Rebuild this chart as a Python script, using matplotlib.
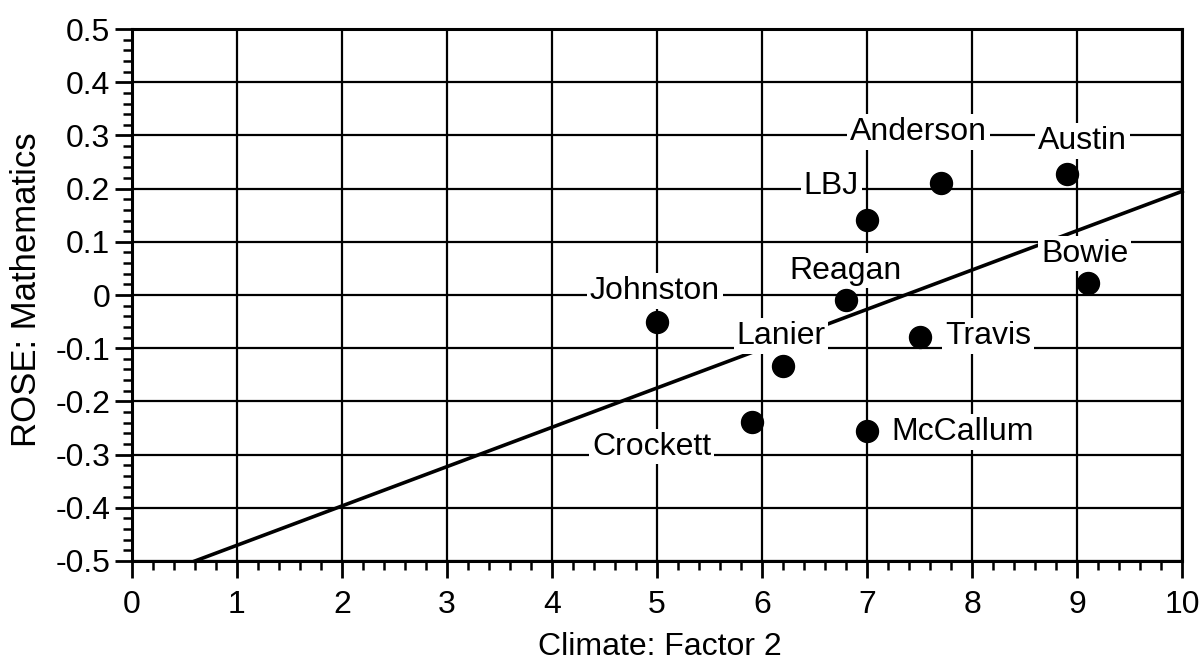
import matplotlib.pyplot as plt
import numpy as np
from matplotlib.ticker import MultipleLocator

plt.rcParams['font.family'] = ['Liberation Sans', 'DejaVu Sans']

schools = ["Johnston", "Crockett", "Lanier", "Reagan", "LBJ",
           "Anderson", "Austin", "Bowie", "Travis", "McCallum"]
climate = [5.0, 5.9, 6.2, 6.8, 7.0, 7.7, 8.9, 9.1, 7.5, 7.0]
rose_math = [-0.05, -0.238, -0.134, -0.009, 0.141, 0.21, 0.228, 0.023, -0.079, -0.255]
# where each name is written (centre x, baseline y)
label_x = [4.98, 4.95, 6.18, 6.79, 6.66, 7.49, 9.05, 9.07, 8.15, 7.91]
label_y = [-0.007, -0.300, -0.092, 0.031, 0.190, 0.292, 0.275, 0.063, -0.092, -0.272]

# fitted line end points
fit_x = [0.6, 10.0]
fit_y = [-0.5, 0.195]

fig = plt.figure(figsize=(12.03, 6.60), dpi=100)
ax = fig.add_axes([0.1097, 0.15, 0.873, 0.806])

ax.set_xlim(0, 10)
ax.set_ylim(-0.5, 0.5)
ax.xaxis.set_major_locator(MultipleLocator(1))
ax.xaxis.set_minor_locator(MultipleLocator(0.2))
ax.yaxis.set_major_locator(MultipleLocator(0.1))
ax.yaxis.set_minor_locator(MultipleLocator(0.02))
ax.grid(True, which='major', color='black', linewidth=1.6)
ax.set_axisbelow(True)

ax.plot(fit_x, fit_y, color='black', linewidth=2.6, zorder=2, clip_on=False)
ax.scatter(climate, rose_math, s=250, c='black', zorder=4)

for name, lx, ly in zip(schools, label_x, label_y):
    ax.text(lx, ly, name, fontsize=23, ha='center', va='baseline', zorder=3,
            bbox=dict(facecolor='white', edgecolor='none', pad=2))

yticks = np.round(np.arange(-0.5, 0.51, 0.1), 1)
ax.set_yticks(yticks)
ax.set_yticklabels(["0" if v == 0 else "%.1f" % v for v in yticks])

ax.tick_params(which='major', direction='out', length=12, width=2, labelsize=23)
ax.tick_params(axis='x', which='major', pad=9)
ax.tick_params(axis='y', which='major', pad=3.5)
ax.tick_params(which='minor', direction='out', length=6.5, width=1.8)
for sp in ax.spines.values():
    sp.set_linewidth(2.2)

ax.set_xlabel("Climate: Factor 2", fontsize=23)
ax.set_ylabel("ROSE: Mathematics", fontsize=25)
ax.xaxis.set_label_coords(0.503, -0.133)
ax.yaxis.set_label_coords(-0.085, 0.51)

fig.savefig("out.png", dpi=100)
